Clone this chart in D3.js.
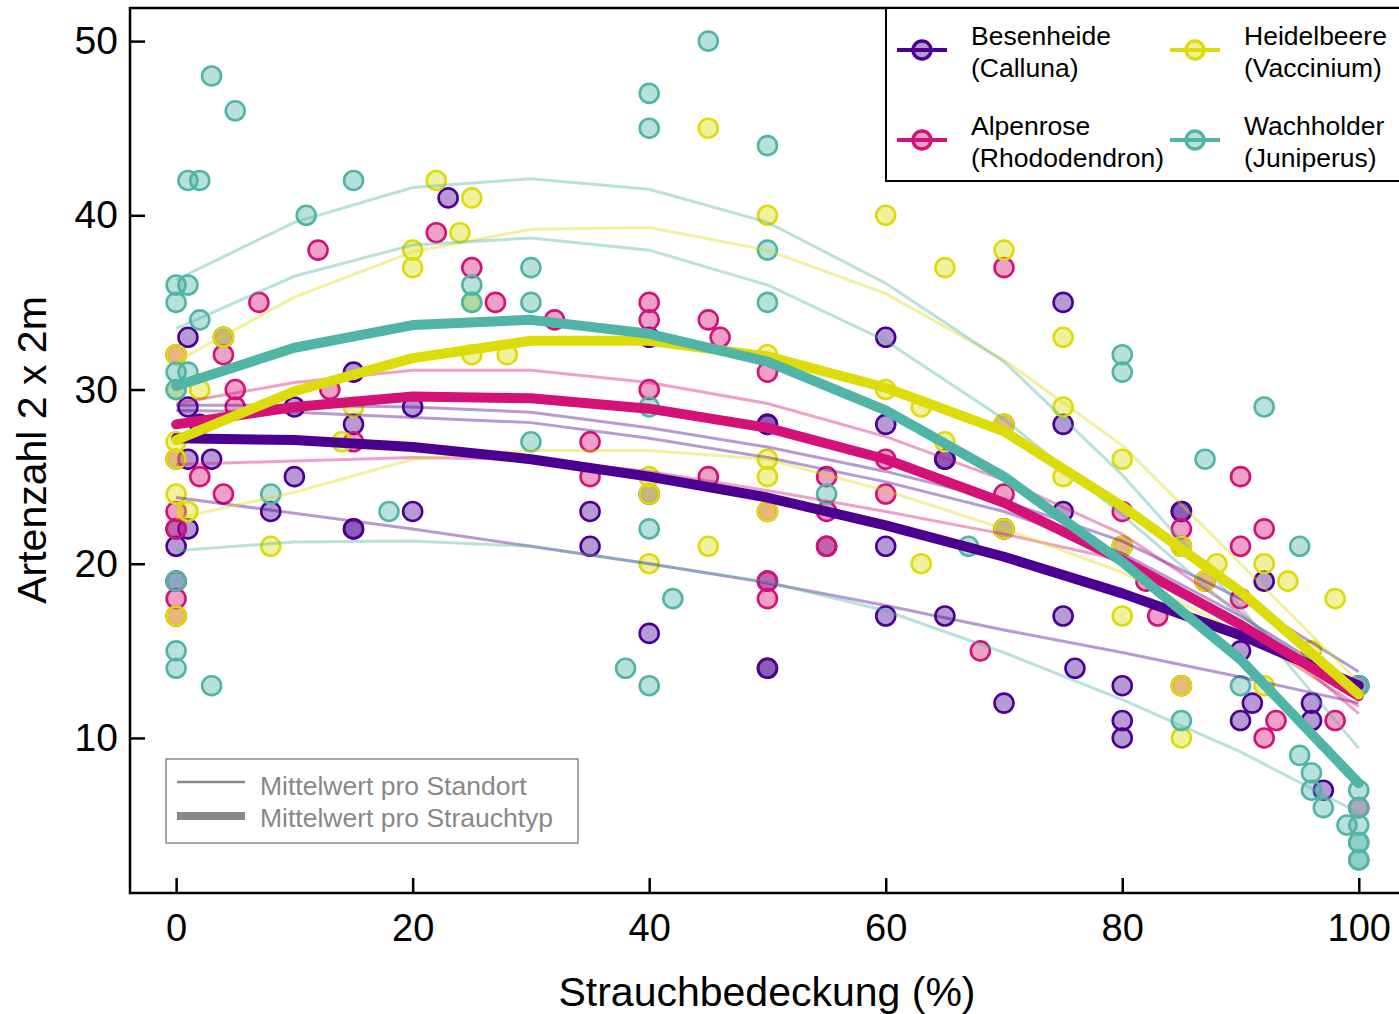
<!DOCTYPE html>
<html><head><meta charset="utf-8">
<script src="https://cdn.jsdelivr.net/npm/d3@7"></script>
<style>body{margin:0;background:#fff}svg{display:block;font-family:"Liberation Sans",Arial,sans-serif}</style>
</head><body><svg id="c" width="1399" height="1014"></svg>
<script>
const species = ["Besenheide","Alpenrose","Heidelbeere","Wachholder"];
const speciesLatin = ["(Calluna)","(Rhododendron)","(Vaccinium)","(Juniperus)"];
const colors = ["#4B0092","#D41176","#DCDC0A","#50B4A6"];
const xTicks = [0,20,40,60,80,100];
const yTicks = [10,20,30,40,50];
const xGrid = [0,10,20,30,40,50,60,70,80,90,100];

const pointsCalluna = [[23,41],[1,33],[1,29],[10,29],[15,31],[15,28],[20,29],[2,28],[1,26],[3,26],[10,25],[1,22],[0,21],[0,22],[8,23],[15,22],[15,22],[20,23],[35,23],[35,21],[40,16],[50,28],[50,28],[50,14],[50,14],[40,33],[60,33],[75,35],[60,28],[75,28],[65,26],[65,26],[75,23],[60,21],[60,17],[65,17],[75,17],[76,14],[70,12],[80,13],[80,11],[80,10],[85,23],[85,23],[92,19],[90,15],[91,12],[90,11],[96,12],[96,11],[97,7],[100,13],[0,19],[4,33],[40,24],[50,19],[55,21],[70,22]];
const pointsRhodo = [[22,39],[12,38],[25,37],[7,35],[27,35],[32,34],[4,32],[0,32],[5,30],[13,30],[5,29],[15,27],[2,25],[4,24],[0,23],[0,22],[0,18],[35,27],[35,25],[40,35],[40,34],[45,34],[46,33],[40,30],[45,25],[50,31],[50,19],[50,18],[55,25],[55,23],[55,21],[60,26],[60,24],[70,37],[70,24],[70,28],[68,15],[80,23],[80,21],[82,19],[83,17],[85,22],[85,21],[90,25],[92,22],[90,21],[90,18],[92,10],[93,11],[98,11],[100,6],[0,26],[0,17],[50,23],[87,19],[85,13]];
const pointsVacc = [[22,42],[25,41],[24,39],[20,38],[20,37],[25,35],[4,33],[0,32],[2,30],[0,30],[25,32],[28,32],[15,29],[14,27],[1,23],[0,24],[0,27],[0,26],[0,17],[8,21],[40,25],[40,24],[40,20],[45,21],[45,45],[50,40],[50,32],[50,26],[50,25],[50,23],[60,40],[65,37],[60,30],[63,29],[65,27],[70,38],[70,28],[75,33],[75,29],[75,25],[63,20],[70,22],[80,26],[80,21],[80,17],[85,13],[85,10],[85,21],[88,20],[87,19],[92,20],[94,19],[98,18],[96,15],[92,13]];
const pointsJuni = [[3,48],[5,46],[1,42],[2,42],[11,40],[15,42],[0,36],[1,36],[0,35],[2,34],[0,31],[1,31],[0,30],[25,36],[25,35],[30,37],[30,35],[30,27],[40,47],[40,45],[40,29],[40,22],[42,18],[38,14],[40,13],[45,50],[50,44],[50,38],[50,35],[55,24],[67,21],[80,32],[80,31],[92,29],[87,26],[95,21],[90,13],[85,11],[95,9],[96,8],[96,7],[97,6],[99,5],[100,7],[100,5],[100,4],[100,3],[100,4],[100,3],[100,13],[100,6],[0,19],[0,15],[0,14],[3,13],[8,24],[18,23]];

// species means (thick lines), at xGrid
const meanCalluna = [27.2,27.1,26.7,26.0,25.0,23.8,22.2,20.4,18.3,15.9,13.0];
const meanRhodo   = [28.0,29.0,29.6,29.5,28.9,27.8,26.0,23.5,20.2,16.5,12.4];
const meanVacc    = [27.1,29.9,31.8,32.8,32.8,31.9,30.1,27.6,23.3,18.4,12.5];
const meanJuni    = [30.2,32.4,33.7,34.0,33.2,31.6,28.8,25.0,20.1,14.5,7.4];

// site means (thin lines), at xGrid
const siteCalluna = [
  [29.1,29.1,29.0,28.7,27.8,26.7,25.3,23.6,21.3,18.0,13.8],
  [28.8,28.7,28.4,28.1,27.2,26.1,24.7,23.0,20.6,17.0,12.8],
  [23.8,22.9,22.0,21.0,20.0,18.9,17.6,16.2,14.9,13.5,12.0]];
const siteRhodo = [
  [29.2,30.4,31.1,31.1,30.4,29.2,27.3,24.8,21.7,17.2,11.4],
  [25.7,25.9,26.1,26.0,25.3,24.2,23.0,21.7,20.2,16.2,11.8]];
const siteVacc = [
  [31.6,35.3,37.9,39.2,39.3,38.0,35.5,31.7,26.8,20.0,13.2],
  [22.6,24.1,26.0,26.5,26.5,26.0,24.2,22.0,19.5,16.0,12.2]];
const siteJuni = [
  [36.3,39.6,41.6,42.1,41.5,39.6,36.1,31.6,25.1,17.5,9.4],
  [33.5,36.5,38.3,38.7,38.0,36.0,32.8,28.3,22.8,17.0,12.6],
  [20.75,21.25,21.3,21.0,20.0,18.95,17.3,14.9,12.2,9.2,5.7]];

const allPoints = [pointsCalluna,pointsRhodo,pointsVacc,pointsJuni];
const allMeans = [meanCalluna,meanRhodo,meanVacc,meanJuni];
const allSites = [siteCalluna,siteRhodo,siteVacc,siteJuni];

const svg = d3.select("#c");
const x = d3.scaleLinear().domain([-3.9,103.4]).range([130,1399]);
const y = d3.scaleLinear().domain([1.1,51.9]).range([893,8]);

// points
allPoints.forEach((pts,i)=>{
  svg.append("g").selectAll("circle").data(pts).join("circle")
    .attr("cx",d=>x(d[0])).attr("cy",d=>y(d[1])).attr("r",9.5)
    .attr("fill",colors[i]).attr("fill-opacity",0.4)
    .attr("stroke",colors[i]).attr("stroke-width",2.6);
});

const line = d3.line().x((d,i)=>x(xGrid[i])).y(d=>y(d));
allSites.forEach((sites,i)=>{
  sites.forEach(s=>{
    svg.append("path").attr("d",line(s)).attr("fill","none")
      .attr("stroke",colors[i]).attr("stroke-opacity",0.4).attr("stroke-width",3);
  });
});
allMeans.forEach((m,i)=>{
  svg.append("path").attr("d",line(m)).attr("fill","none")
    .attr("stroke",colors[i]).attr("stroke-width",10).attr("stroke-linejoin","round").attr("stroke-linecap","round");
});

// frame
svg.append("rect").attr("x",130).attr("y",8).attr("width",1300).attr("height",885)
  .attr("fill","none").attr("stroke","#000").attr("stroke-width",2.5);

// axes (ticks inward)
const ax = svg.append("g").attr("transform","translate(0,893)")
  .call(d3.axisBottom(x).tickValues(xTicks).tickSizeInner(-15).tickSizeOuter(0).tickPadding(18));
ax.select(".domain").remove();
ax.selectAll("line").attr("stroke-width",2.5);
ax.selectAll("text").attr("font-size",38).attr("font-family","Liberation Sans, Arial").attr("fill","#000").attr("dy","0.8em");
const ay = svg.append("g").attr("transform","translate(130,0)")
  .call(d3.axisLeft(y).tickValues(yTicks).tickSizeInner(-15).tickSizeOuter(0).tickPadding(12));
ay.select(".domain").remove();
ay.selectAll("line").attr("stroke-width",2.5);
ay.selectAll("text").attr("font-size",39).attr("font-family","Liberation Sans, Arial").attr("fill","#000");

svg.append("text").attr("x",767).attr("y",1006).attr("text-anchor","middle")
  .attr("font-size",41).text("Strauchbedeckung (%)");
svg.append("text").attr("transform","translate(46,450) rotate(-90)").attr("text-anchor","middle")
  .attr("font-size",41).text("Artenzahl 2 x 2m");

// species legend
const lg = svg.append("g");
lg.append("rect").attr("x",886).attr("y",8).attr("width",600).attr("height",173)
  .attr("fill","#fff").attr("stroke","#000").attr("stroke-width",2);
const legPos = [[897,50],[897,140],[1170,50],[1170,140]];
species.forEach((s,i)=>{
  const [lx,ly] = legPos[i];
  lg.append("line").attr("x1",lx).attr("x2",lx+50).attr("y1",ly).attr("y2",ly)
    .attr("stroke",colors[i]).attr("stroke-width",4);
  lg.append("circle").attr("cx",lx+25).attr("cy",ly).attr("r",9)
    .attr("fill",colors[i]).attr("fill-opacity",0.4).attr("stroke",colors[i]).attr("stroke-width",3.5);
  const t = lg.append("text").attr("x",lx+74).attr("y",ly-5).attr("font-size",26.5);
  t.append("tspan").attr("x",lx+74).attr("dy",0).text(s);
  t.append("tspan").attr("x",lx+74).attr("dy",32).text(speciesLatin[i]);
});

// line type legend
const lg2 = svg.append("g");
lg2.append("rect").attr("x",166).attr("y",759).attr("width",412).attr("height",84)
  .attr("fill","#fff").attr("stroke","#888").attr("stroke-width",1.5);
lg2.append("line").attr("x1",177).attr("x2",245).attr("y1",782).attr("y2",782).attr("stroke","#888").attr("stroke-width",2.5);
lg2.append("line").attr("x1",177).attr("x2",245).attr("y1",816).attr("y2",816).attr("stroke","#888").attr("stroke-width",8);
lg2.append("text").attr("x",260).attr("y",795).attr("font-size",26.5).attr("fill","#888").text("Mittelwert pro Standort");
lg2.append("text").attr("x",260).attr("y",827).attr("font-size",26.5).attr("fill","#888").text("Mittelwert pro Strauchtyp");
</script></body></html>
